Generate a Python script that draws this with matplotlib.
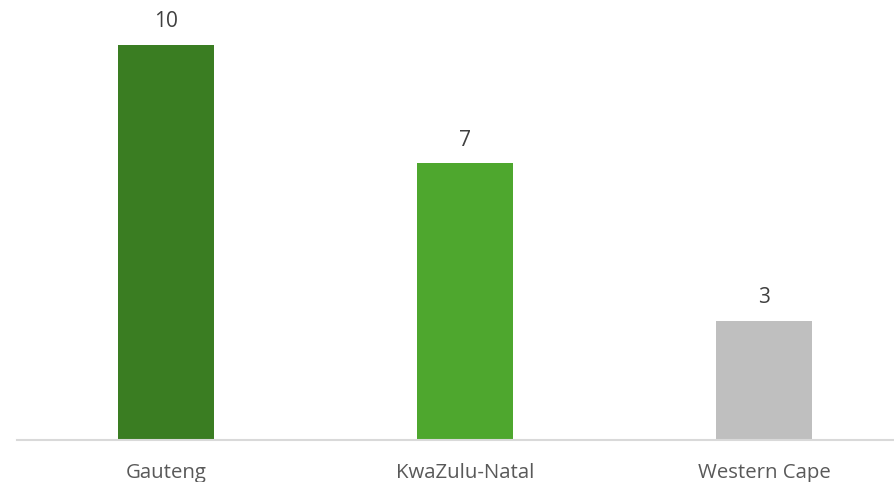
import matplotlib
matplotlib.use("Agg")
import matplotlib.pyplot as plt

categories = ["Gauteng", "KwaZulu-Natal", "Western Cape"]
values = [10, 7, 3]
colors = ["#3A7D22", "#4EA72E", "#BFBFBF"]

plt.rcParams['font.family'] = ['Open Sans', 'DejaVu Sans']

fig = plt.figure(figsize=(8.94, 4.82), dpi=100)
W, H = 894, 482
left, right = 16.5, 913.5
bottom, top = 439.5, 45
ymax = 10 * (bottom - 0) / (bottom - top)
ax = fig.add_axes([left / W, (H - bottom) / H, (right - left) / W, bottom / H])
x = range(len(categories))
bars = ax.bar(x, values, width=0.318, color=colors, zorder=2)
ax.set_xlim(-0.5, 2.5)
ax.set_ylim(0, ymax)
for xi, v in zip(x, values):
    ax.text(xi, v + 0.45, str(v), ha="center", va="baseline", fontsize=15, color="#404040")
ax.set_xticks(list(x))
ax.set_xticklabels(categories, fontsize=14.7, color="#595959")
ax.tick_params(axis="x", length=0, pad=17)
ax.set_yticks([])
for s in ["top", "right", "left"]:
    ax.spines[s].set_visible(False)
ax.spines["bottom"].set_color("#D9D9D9")
ax.spines["bottom"].set_linewidth(1.5)
ax.patch.set_alpha(0)
fig.savefig("out.png", dpi=100)
